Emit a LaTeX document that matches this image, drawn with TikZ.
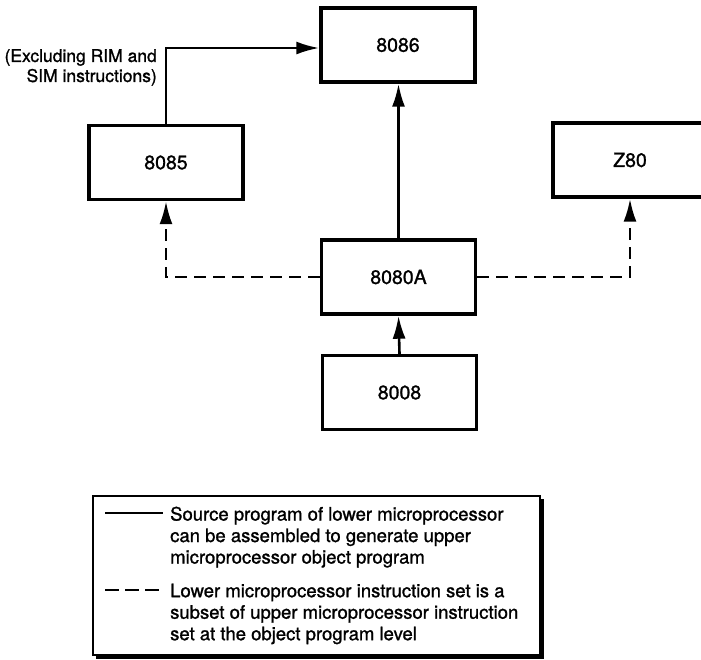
\documentclass[tikz,border=0pt]{standalone}
\usepackage{fontspec}
\setmainfont{TeX Gyre Heros}[FakeBold=1.2]
\usepackage{tikz}
\usetikzlibrary{arrows.meta, calc}

\begin{document}
\begin{tikzpicture}[x=1pt, y=-1pt,
        cpu/.style={draw, line width=3.4pt, minimum width=154pt, minimum height=74pt, inner sep=0pt, font=\fontsize{19.5}{23}\selectfont},
        link/.style={line width=2.6pt, -{Latex[length=23pt, width=13pt]}},
        subset/.style={link, dash pattern=on 12pt off 7pt},
        note/.style={inner sep=0pt, align=left, font=\fontsize{18.5}{21.5}\selectfont}]
        \useasboundingbox (0,0) rectangle (701,659);

        \node[cpu] (a8086) at (398,45) {8086};
        \node[cpu] (a8085) at (166,162.5) {8085};
        \node[cpu] (z80) at (630,160) {Z80};
        \node[cpu] (a8080) at (398.5,277) {8080A};
        \node[cpu] (a8008) at (399.5,392.5) {8008};

        \draw[link] (a8008.north) -- (a8080.south);
        \draw[link] (a8080.north) -- (a8080.north |- a8086.south);
        \draw[link] (a8085.north) |- ([yshift=-3pt]a8086.west);
        \draw[subset] (a8080.west) -| (a8085.south);
        \draw[subset] (a8080.east) -| (z80.south);

        \node[anchor=north east, inner sep=0pt, align=right, font=\fontsize{17.5}{20}\selectfont] (rimsim) at (157,49) {(Excluding RIM and\\SIM instructions)};

        % legend
        \draw[line width=4.5pt] (542,499) -- (542,656.5) -- (96,656.5);
        \draw[line width=2.4pt, fill=white] (93,496) rectangle (540,655);
        \coordinate (solidA) at (105,513);
        \coordinate (solidB) at (163,513);
        \coordinate (dashA) at (105,590);
        \coordinate (dashB) at (163,590);
        \draw[line width=2.2pt] (solidA) -- (solidB);
        \draw[line width=2.4pt, dash pattern=on 14pt off 6pt] (dashA) -- (dashB);
        \node[note, anchor=north west] (srcnote) at (170,506.5) {Source program of lower microprocessor\\can be assembled to generate upper\\microprocessor object program};
        \node[note, anchor=north west] (setnote) at (170,583.5) {Lower microprocessor instruction set is a\\subset of upper microprocessor instruction\\set at the object program level};
    \end{tikzpicture}
\end{document}
